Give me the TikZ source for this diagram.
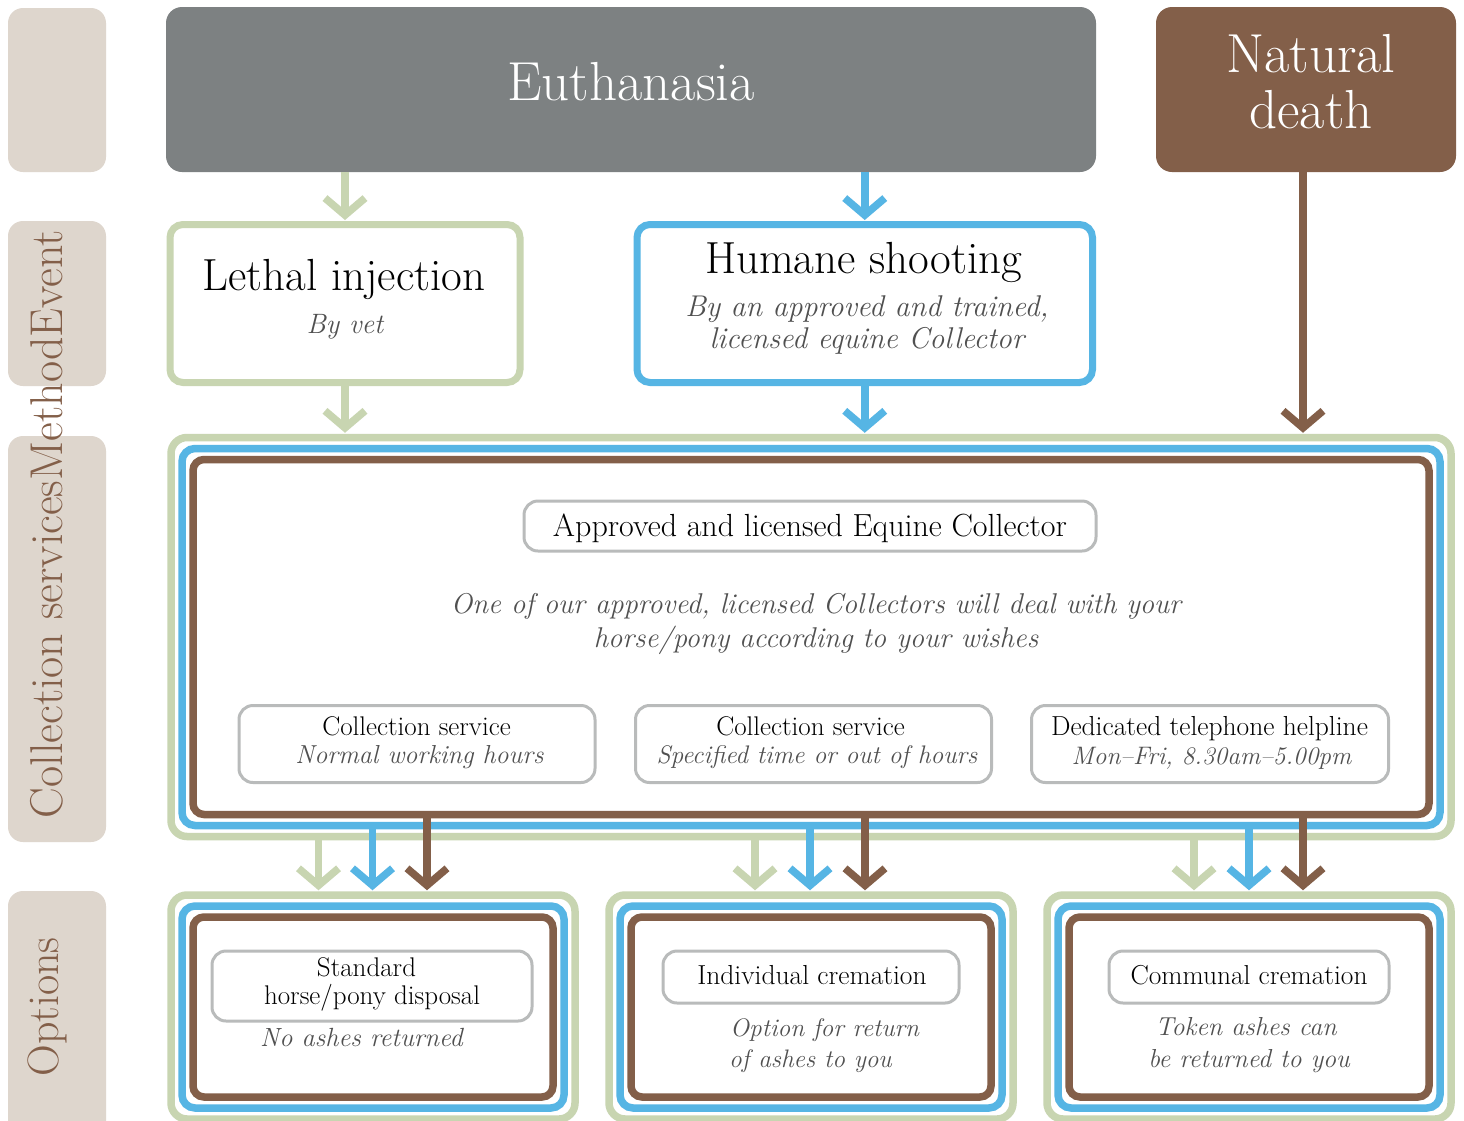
\documentclass[tikz,border=0pt]{standalone}
\usetikzlibrary{arrows.meta}
\definecolor{beige}{RGB}{222,214,205}
\definecolor{egray}{RGB}{125,129,130}
\definecolor{nbrown}{RGB}{131,95,73}
\definecolor{lgreen}{RGB}{200,213,177}
\definecolor{sblue}{RGB}{86,181,228}
\definecolor{bgray}{RGB}{185,187,187}
\definecolor{itgray}{RGB}{80,80,80}
\newcommand\fsz[1]{\fontsize{#1}{#1}\selectfont}
\begin{document}
\begin{tikzpicture}[x=1pt,y=-1pt,
  panel/.style={fill=beige, draw=none, rounded corners=15pt, inner sep=0pt},
  headbox/.style={rounded corners=16pt, inner sep=0pt},
  methbox/.style={line width=7pt, rounded corners=13pt, inner sep=0pt},
  ringG/.style={draw=lgreen, line width=7.5pt, rounded corners=16pt, inner sep=0pt},
  ringB/.style={draw=sblue, line width=7.5pt, rounded corners=13pt, inner sep=0pt},
  ringR/.style={draw=nbrown, line width=7.5pt, rounded corners=11pt, inner sep=0pt},
  lbox/.style={draw=bgray, line width=3pt, rounded corners=14pt, inner sep=0pt},
  txt/.style={anchor=base, inner sep=0pt},
  headtxt/.style={txt, text=white, font=\fsz{55}},
  methtxt/.style={txt, text=black, font=\fsz{45}},
  subtxt/.style={txt, text=itgray, font=\itshape\fsz{#1}},
  labtxt/.style={txt, text=black, font=\fsz{#1}},
  sidetxt/.style={txt, text=nbrown, font=\fsz{#1}, rotate=90},
  arr/.style={line width=7.5pt, -{Straight Barb[length=17pt,width=40pt]}, shorten >=1pt},
  garr/.style={arr, draw=lgreen},
  blarr/.style={arr, draw=sblue},
  brarr/.style={arr, draw=nbrown}
]
\fill[white] (0,0) rectangle (1464,1120);
\useasboundingbox (0,0) rectangle (1464,1120);

% side panels
\node[panel, minimum width=98pt, minimum height=164pt] (p1) at (57,90) {};
\node[panel, minimum width=98pt, minimum height=165pt] (p2) at (57,303.5) {};
\node[panel, minimum width=98pt, minimum height=406pt] (p3) at (57,639) {};
\node[panel, minimum width=98pt, minimum height=260pt] (p4) at (57,1021) {};
\node[sidetxt=46] (sideA) at (62,524) {Collection servicesMethodEvent};
\node[sidetxt=44] (sideB) at (58,1007) {Options};

% event boxes
\node[headbox, fill=egray, minimum width=930pt, minimum height=165pt] (euth) at (631,89.5) {};
\node[headtxt] (euthT) at (631,100) {Euthanasia};
\node[headbox, fill=nbrown, minimum width=300pt, minimum height=165pt] (nat) at (1306,89.5) {};
\node[headtxt] (natT1) at (1311,72) {Natural};
\node[headtxt] (natT2) at (1311,128) {death};

% method boxes
\node[methbox, draw=lgreen, minimum width=350pt, minimum height=158pt] (leth) at (345,303.5) {};
\node[methtxt] (lethT) at (344,290) {Lethal injection};
\node[subtxt=28] (lethS) at (345,333) {By vet};
\node[methbox, draw=sblue, minimum width=455.5pt, minimum height=158pt] (hum) at (864.75,303.5) {};
\node[methtxt] (humT) at (863.5,273) {Humane shooting};
\node[subtxt=30] (humS1) at (867,316) {By an approved and trained,};
\node[subtxt=30] (humS2) at (867,348) {licensed equine Collector};

% collection box
\node[ringG, minimum width=1280pt, minimum height=399pt] (bigG) at (811,637) {};
\node[ringB, minimum width=1258pt, minimum height=377pt] (bigB) at (811,637) {};
\node[ringR, minimum width=1236pt, minimum height=355pt] (bigR) at (811,637) {};
\node[lbox, minimum width=572pt, minimum height=50pt] (appr) at (810,526) {};
\node[labtxt=32] (apprT) at (810,536) {Approved and licensed Equine Collector};
\node[subtxt=28.6] (oneA) at (816,613) {One of our approved, licensed Collectors will deal with your};
\node[subtxt=28.6] (oneB) at (816,647) {horse/pony according to your wishes};

\node[lbox, minimum width=356pt, minimum height=77pt] (sbA) at (417,744) {};
\node[labtxt=27] (sbAT) at (416.5,735) {Collection service};
\node[subtxt=26] (sbAS) at (419.5,763) {Normal working hours};
\node[lbox, minimum width=356pt, minimum height=77pt] (sbB) at (813.5,744) {};
\node[labtxt=27] (sbBT) at (810.5,735) {Collection service};
\node[subtxt=25.4] (sbBS) at (817,763) {Specified time or out of hours};
\node[lbox, minimum width=357pt, minimum height=77pt] (sbC) at (1210,744) {};
\node[labtxt=27.5] (sbCT) at (1209.5,735) {Dedicated telephone helpline};
\node[subtxt=25.3] (sbCS) at (1211.5,764) {Mon--Fri, 8.30am--5.00pm};

% option boxes
\foreach \n/\x in {A/373,B/811,C/1249}{
  \node[ringG, minimum width=404pt, minimum height=224pt] (o\n G) at (\x,1007) {};
  \node[ringB, minimum width=382pt, minimum height=202pt] (o\n B) at (\x,1007) {};
  \node[ringR, minimum width=360pt, minimum height=180pt] (o\n R) at (\x,1007) {};
}
\node[lbox, minimum width=320pt, minimum height=70pt] (laA) at (372,986) {};
\node[labtxt=27] (laAT1) at (366.5,976.5) {Standard};
\node[labtxt=27] (laAT2) at (372,1004) {horse/pony disposal};
\node[subtxt=26.3] (laAS) at (361.5,1046) {No ashes returned};
\node[lbox, minimum width=296pt, minimum height=52pt] (laB) at (811,977) {};
\node[labtxt=27.5] (laBT) at (812,984) {Individual cremation};
\node[subtxt=25.3, anchor=base west] (laBS1) at (730,1036) {Option for return};
\node[subtxt=25.3, anchor=base west] (laBS2) at (729,1067) {of ashes to you};
\node[lbox, minimum width=280pt, minimum height=52pt] (laC) at (1249,977) {};
\node[labtxt=27.4] (laCT) at (1249,984) {Communal cremation};
\node[subtxt=26] (laCS1) at (1246,1035) {Token ashes can};
\node[subtxt=26] (laCS2) at (1249,1067) {be returned to you};

% arrows
\coordinate (xn) at (1303,0);
\draw[garr] (euth.south -| leth.north) -- (leth.north);
\draw[blarr] (euth.south -| hum.north) -- (hum.north);
\draw[garr] (leth.south) -- (leth.south |- bigG.north);
\draw[blarr] (hum.south) -- (hum.south |- bigG.north);
\draw[brarr] (nat.south -| xn) -- (bigG.north -| xn);
\foreach \n/\g/\b/\r in {A/318.5/372.5/427,B/755/810/865,C/1194/1249/1303}{
  \coordinate (xg\n) at (\g,0);
  \coordinate (xb\n) at (\b,0);
  \coordinate (xr\n) at (\r,0);
  \draw[garr] (bigG.south -| xg\n) -- (o\n G.north -| xg\n);
  \draw[blarr] (bigB.south -| xb\n) -- (o\n G.north -| xb\n);
  \draw[brarr] (bigR.south -| xr\n) -- (o\n G.north -| xr\n);
}
\end{tikzpicture}
\end{document}
